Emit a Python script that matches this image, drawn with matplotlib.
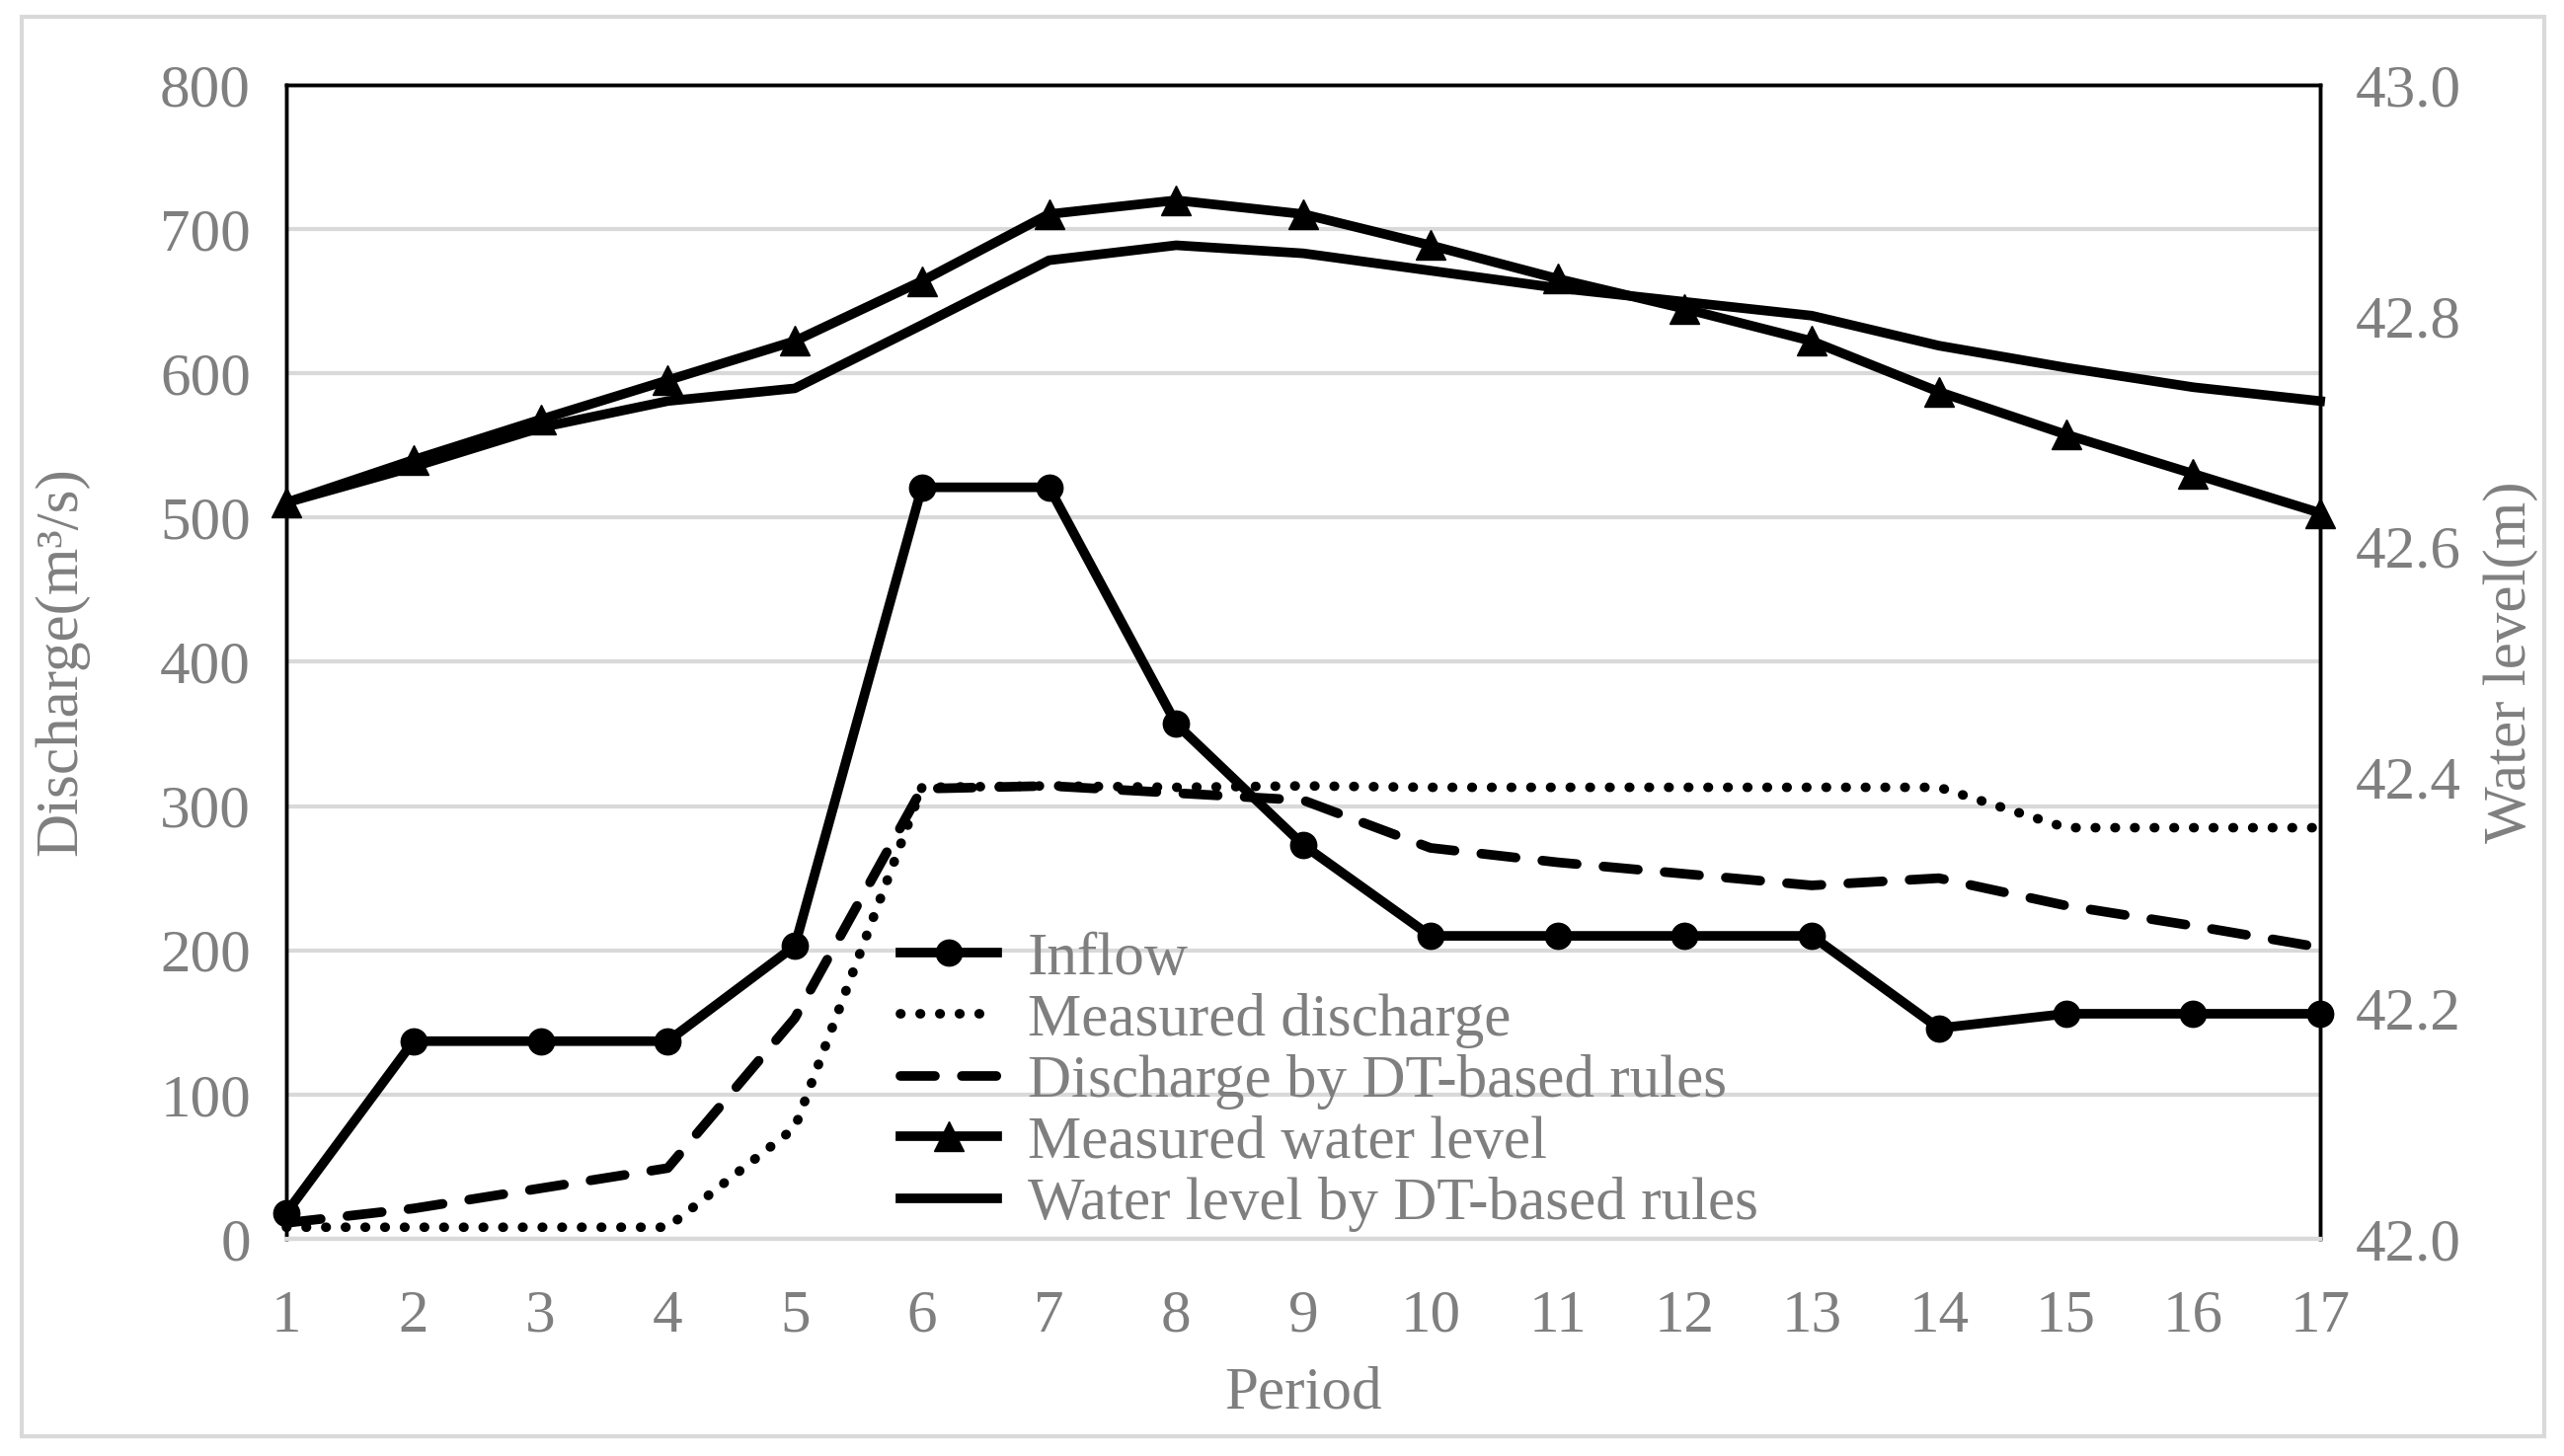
import matplotlib
matplotlib.use("Agg")
import matplotlib.pyplot as plt
from matplotlib.patches import Rectangle

# data
period = list(range(1, 18))
inflow = [18, 137, 137, 137, 203, 521, 521, 357, 273, 210, 210, 210, 210, 146, 156, 156, 156]
measured_q = [8, 8, 8, 8, 77, 313, 314, 313, 314, 313, 313, 313, 313, 313, 285, 285, 285]
dt_q = [11, 21, 35, 49, 153, 312, 314, 309, 304, 271, 261, 253, 245, 250, 231, 217, 202]
measured_wl = [42.638, 42.675, 42.710, 42.744, 42.778, 42.830, 42.888, 42.900, 42.888, 42.861,
               42.832, 42.806, 42.778, 42.734, 42.697, 42.663, 42.629]
dt_wl = [42.638, 42.669, 42.703, 42.726, 42.737, 42.792, 42.848, 42.861, 42.854, 42.839,
         42.824, 42.812, 42.800, 42.774, 42.755, 42.738, 42.726]

gray = "#7f7f7f"
grid_gray = "#d9d9d9"
fs = 44
plt.rcParams["font.family"] = ["Liberation Serif", "DejaVu Serif"]

fig = plt.figure(figsize=(25.97, 14.75), dpi=100)
ax = fig.add_axes([0.1117, 0.1492, 0.7932, 0.7925])
ax2 = ax.twinx()

lw = 7
l1, = ax.plot(period, inflow, color="black", lw=lw, marker="o", ms=19, clip_on=False, label="Inflow")
l2, = ax.plot(period, measured_q, color="black", lw=7, linestyle=(0, (0.05, 2.0)),
              dash_capstyle="round", clip_on=False, label="Measured discharge")
l3, = ax.plot(period, dt_q, color="black", lw=lw, linestyle=(0, (3.6, 2.8)),
              dash_capstyle="round", clip_on=False, label="Discharge by DT-based rules")
l4, = ax2.plot(period, measured_wl, color="black", lw=lw, marker="^", ms=22, clip_on=False,
               label="Measured water level")
l5, = ax2.plot(period, dt_wl, color="black", lw=lw, clip_on=False, label="Water level by DT-based rules")

ax.set_xlim(1, 17)
ax.set_ylim(0, 800)
ax.set_yticks(range(0, 801, 100))
ax2.set_ylim(42.0, 43.0)
ax2.set_yticks([42.0, 42.2, 42.4, 42.6, 42.8, 43.0])
ax2.set_yticklabels(["%.1f" % v for v in [42.0, 42.2, 42.4, 42.6, 42.8, 43.0]])

ax.set_xticks(period)
ax.set_xticks([1, 6, 11, 16], minor=True)
ax.tick_params(axis="x", which="major", length=0, labelsize=fs, labelcolor=gray, pad=37)
ax.tick_params(axis="x", which="minor", direction="in", length=12, width=2.5, color=grid_gray)
ax.tick_params(axis="y", length=0, labelsize=fs, labelcolor=gray, pad=26)
ax2.tick_params(axis="y", length=0, labelsize=fs, labelcolor=gray, pad=26)

ax.grid(axis="y", color=grid_gray, lw=3)
ax.set_axisbelow(True)

for a in (ax, ax2):
    for s in ("top", "left", "right"):
        a.spines[s].set_color("black")
        a.spines[s].set_linewidth(2.5)
    a.spines["bottom"].set_color(grid_gray)
    a.spines["bottom"].set_linewidth(3)

ax.set_xlabel("Period", fontsize=fs, color=gray)
ax.xaxis.set_label_coords(0.5, -0.11)
ax.set_ylabel("Discharge(m³/s)", fontsize=fs, color=gray)
ax.yaxis.set_label_coords(-0.097, 0.5)
ax2.set_ylabel("Water level(m)", fontsize=fs, color=gray, rotation=90)
ax2.yaxis.set_label_coords(1.08, 0.5)

leg = ax2.legend(handles=[l1, l2, l3, l4, l5], loc="upper left", bbox_to_anchor=(0.302, 0.266),
                 frameon=False, fontsize=fs, labelcolor=gray, handlelength=1.6,
                 handletextpad=0.5, labelspacing=0.1, borderpad=0, borderaxespad=0)

fig.patches.append(Rectangle((0.0085, 0.0136), 0.9838, 0.9749, transform=fig.transFigure,
                             fill=False, edgecolor=grid_gray, lw=3))

fig.savefig("out.png", dpi=100)
